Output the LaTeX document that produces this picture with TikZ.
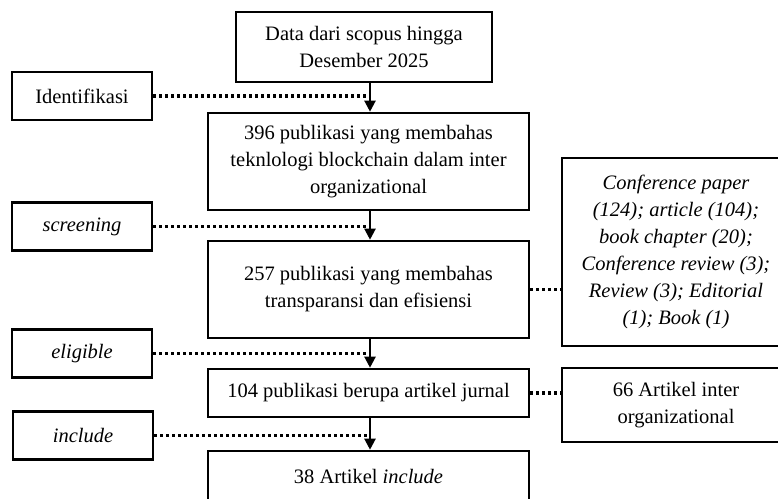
\documentclass[tikz,border=0pt]{standalone}
\usepackage{fontspec}
\setmainfont{Liberation Serif}
\usetikzlibrary{arrows.meta}
\tikzset{
  box/.style={draw, line width=2.6pt, inner sep=0pt, align=center,
    font=\fontsize{20.5}{27}\selectfont},
  sidebox/.style={box, minimum width=140pt, minimum height=48pt},
  mainbox/.style={box, minimum width=321pt},
  dotline/.style={line width=3.2pt, dash pattern=on 3pt off 3pt},
  flow/.style={line width=2.2pt, -{Triangle[width=11pt,length=11pt]}}
}
\begin{document}
\begin{tikzpicture}[x=1pt,y=-1pt]
\useasboundingbox (0,0) rectangle (778,498);
\clip (0,0) rectangle (778,498);
% main column
\node[box, minimum width=256pt, minimum height=70pt] (a) at (364,47) {Data dari scopus hingga\\Desember 2025};
\node[mainbox, minimum height=97pt] (b) at (368.5,161.5) {396 publikasi yang membahas\\teknlologi blockchain dalam inter\\organizational};
\node[mainbox, minimum height=97pt] (c) at (368.5,289.5) {257 publikasi yang membahas\\transparansi dan efisiensi};
\node[mainbox, minimum height=48pt] (d) at (368.5,393) {104 publikasi berupa artikel jurnal};
\node[mainbox, minimum height=50pt] (e) at (368.5,476) {38 Artikel \textit{include}};
% side labels
\node[sidebox] (id) at (82,96) {Identifikasi};
\node[sidebox] (sc) at (82,226.5) {\textit{screening}};
\node[sidebox] (el) at (82,353.5) {\textit{eligible}};
\node[sidebox] (in) at (83,435.5) {\textit{include}};
% right boxes
\node[box, minimum width=228pt, minimum height=188pt] (f) at (676,252) {\itshape Conference paper\\\itshape (124); article (104);\\\itshape book chapter (20);\\\itshape Conference review (3);\\\itshape Review (3); Editorial\\\itshape (1); Book (1)};
\node[box, minimum width=228pt, minimum height=74pt] (g) at (676,405) {66 Artikel inter\\organizational};
% column for arrows
\coordinate (col) at (370,0);
\draw[flow] (a.south -| col) -- (b.north -| col);
\draw[flow] (b.south -| col) -- (c.north -| col);
\draw[flow] (c.south -| col) -- (d.north -| col);
\draw[flow] (d.south -| col) -- (e.north -| col);
% dotted connectors
\draw[dotline] (id.east) -- (id.east -| col);
\draw[dotline] (sc.east) -- (sc.east -| col);
\draw[dotline] (el.east) -- (el.east -| col);
\draw[dotline] (in.east) -- (in.east -| col);
\draw[dotline] (c.east) -- (c.east -| f.west);
\draw[dotline] (d.east) -- (d.east -| g.west);
\end{tikzpicture}
\end{document}
